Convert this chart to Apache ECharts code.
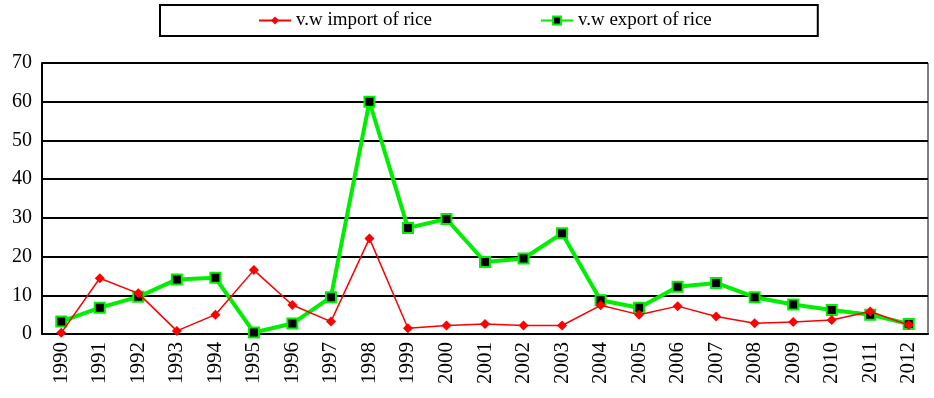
<!DOCTYPE html>
<html>
<head>
<meta charset="utf-8">
<script src="https://cdn.jsdelivr.net/npm/echarts@6/dist/echarts.min.js"></script>
<style>
  html, body { margin: 0; padding: 0; background: #fff; }
  #riceChart { width: 934px; height: 398px; }
</style>
</head>
<body>
<div id="riceChart"></div>
<script>
var years = ['1990', '1991', '1992', '1993', '1994', '1995', '1996', '1997', '1998', '1999', '2000',
    '2001', '2002', '2003', '2004', '2005', '2006', '2007', '2008', '2009', '2010', '2011', '2012'];
var importRice = [0.3, 14.4, 10.5, 0.8, 5, 16.5, 7.5, 3.2, 24.7, 1.5, 2.2,
    2.6, 2.2, 2.2, 7.4, 5, 7.2, 4.5, 2.8, 3.1, 3.6, 5.8, 2.3];
var exportRice = [3.2, 6.8, 9.6, 14.1, 14.5, 0.4, 2.7, 9.5, 60, 27.4, 29.7,
    18.6, 19.5, 26, 8.7, 6.8, 12.2, 13.2, 9.5, 7.6, 6.2, 5, 2.6];
var seriesNames = ['v.w import of rice', 'v.w export of rice'];

var serif = '"Liberation Serif", "Times New Roman", serif';

var option = {
    backgroundColor: '#fff',
    animation: false,
    legend: {
        left: 160,
        top: 5,
        padding: [6, 106, 6, 98],
        itemGap: 108,
        itemWidth: 32,
        itemHeight: 10,
        borderColor: '#000',
        borderWidth: 2,
        textStyle: { fontFamily: serif, fontSize: 19, color: '#000' },
        data: seriesNames
    },
    grid: {
        left: 42,
        right: 6,
        top: 63,
        bottom: 64,
        show: true,
        borderColor: '#000',
        borderWidth: 1
    },
    xAxis: {
        type: 'category',
        data: years,
        boundaryGap: true,
        axisLine: { lineStyle: { color: '#000', width: 2 } },
        axisTick: { inside: true, length: 5, lineStyle: { color: '#000', width: 1.5 } },
        axisLabel: {
            rotate: 90,
            interval: 0,
            margin: 8,
            fontFamily: serif,
            fontSize: 21,
            color: '#000'
        }
    },
    yAxis: {
        type: 'value',
        min: 0,
        max: 70,
        interval: 10,
        axisLine: { show: true, lineStyle: { color: '#000', width: 2 } },
        axisTick: { show: false },
        axisLabel: { fontFamily: serif, fontSize: 20, color: '#000', margin: 10 },
        splitLine: { lineStyle: { color: '#000', width: 2 } }
    },
    series: [{
        name: seriesNames[0],
        type: 'line',
        data: importRice,
        symbol: 'diamond',
        symbolSize: 10,
        color: '#ff0000',
        lineStyle: { color: '#ff0000', width: 1.5 },
        itemStyle: { color: '#ff0000' },
        z: 3
    }, {
        name: seriesNames[1],
        type: 'line',
        data: exportRice,
        symbol: 'rect',
        symbolSize: 10,
        color: '#00ee00',
        lineStyle: { color: '#00ee00', width: 4 },
        itemStyle: { color: '#000', borderColor: '#00ee00', borderWidth: 2 },
        z: 2
    }]
};

var myChart = echarts.init(document.getElementById('riceChart'));
myChart.setOption(option);
</script>
</body>
</html>
